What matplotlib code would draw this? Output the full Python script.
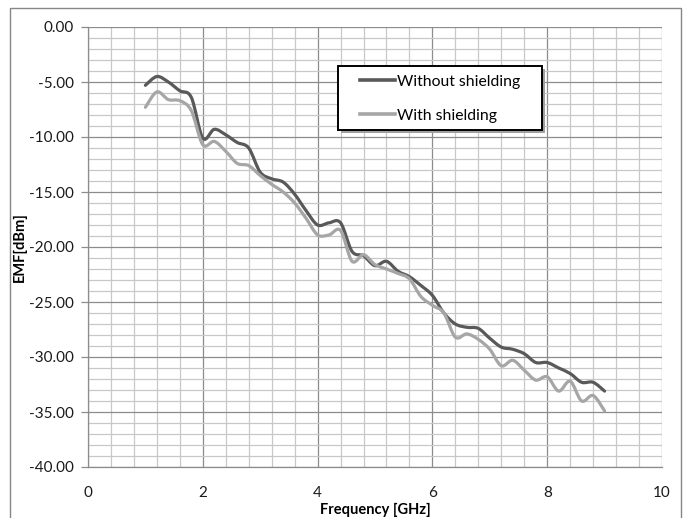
import numpy as np
import matplotlib
matplotlib.use("Agg")
import matplotlib.pyplot as plt
from matplotlib.path import Path
from matplotlib.patches import PathPatch, Rectangle
from matplotlib.lines import Line2D

# =============================
# DATA
# =============================
freq_ghz = [1.0, 1.2, 1.4, 1.6, 1.8, 2.0, 2.2, 2.4, 2.6, 2.8,
            3.0, 3.2, 3.4, 3.6, 3.8, 4.0, 4.2, 4.4, 4.6, 4.8,
            5.0, 5.2, 5.4, 5.6, 5.8, 6.0, 6.2, 6.4, 6.6, 6.8,
            7.0, 7.2, 7.4, 7.6, 7.8, 8.0, 8.2, 8.4, 8.6, 8.8, 9.0]

without_shielding = [-5.3, -4.5, -5.0, -5.8, -6.4, -10.1, -9.3, -9.8, -10.5, -11.0,
                     -13.2, -13.8, -14.1, -15.2, -16.7, -18.0, -17.8, -17.8, -20.4, -20.8,
                     -21.7, -21.3, -22.2, -22.7, -23.5, -24.4, -26.0, -27.0, -27.3, -27.4,
                     -28.3, -29.1, -29.3, -29.7, -30.5, -30.5, -31.0, -31.5, -32.3, -32.3, -33.1]

with_shielding = [-7.3, -5.9, -6.6, -6.7, -7.6, -10.7, -10.4, -11.3, -12.4, -12.6,
                  -13.5, -14.3, -15.0, -16.0, -17.4, -18.9, -18.9, -18.5, -21.3, -20.7,
                  -21.6, -22.0, -22.4, -22.9, -24.5, -25.3, -26.0, -28.2, -27.9, -28.4,
                  -29.3, -30.8, -30.3, -31.2, -32.1, -31.8, -33.1, -32.2, -34.0, -33.5, -34.9]

series_names = ["Without shielding", "With shielding"]
series_colors = ["#595959", "#a6a6a6"]

x_ticks = [0, 2, 4, 6, 8, 10]
y_ticks = [0, -5, -10, -15, -20, -25, -30, -35, -40]

FONT = ["Lato", "DejaVu Sans"]


def smooth_path(xs, ys):
    """Excel-style smoothed line: cubic Bezier through the data points."""
    pts = np.column_stack([xs, ys])
    n = len(pts)
    verts = [pts[0]]
    codes = [Path.MOVETO]
    for i in range(n - 1):
        p0 = pts[i - 1] if i > 0 else pts[i]
        p1 = pts[i]
        p2 = pts[i + 1]
        p3 = pts[i + 2] if i + 2 < n else pts[i + 1]
        c1 = p1 + (p2 - p0) / 6.0
        c2 = p2 - (p3 - p1) / 6.0
        verts += [c1, c2, p2]
        codes += [Path.CURVE4] * 3
    return Path(verts, codes)


fig = plt.figure(figsize=(6.85, 5.18), dpi=100)

# outer chart border
fig.patches.append(Rectangle((10 / 685, -0.02), 671 / 685, 1 - 7.5 / 518 + 0.02,
                             transform=fig.transFigure, fill=False,
                             edgecolor="#868686", linewidth=1.0))

ax = fig.add_axes([88 / 685, (518 - 467) / 518, 574 / 685, 440 / 518])

ax.set_xlim(0, 10)
ax.set_ylim(-40, 0)

# =============================
# GRID
# =============================
ax.set_xticks(x_ticks)
ax.set_xticks(np.arange(0, 10.01, 0.4), minor=True)
ax.set_yticks(y_ticks)
ax.set_yticks(np.arange(-40, 0.01, 1), minor=True)
ax.grid(which="minor", color="#c8c8c8", linewidth=0.9)
ax.grid(which="major", color="#8c8c8c", linewidth=0.9)
ax.set_axisbelow(True)

for side in ["top", "right"]:
    ax.spines[side].set_visible(False)
for side in ["left", "bottom"]:
    ax.spines[side].set_color("#8c8c8c")
    ax.spines[side].set_linewidth(0.9)

ax.tick_params(axis="x", which="both", length=0, pad=14, labelsize=11,
               colors="#1a1a1a")
ax.tick_params(axis="y", which="major", length=5, width=0.9, color="#8c8c8c",
               labelcolor="#1a1a1a", pad=5, labelsize=11)
ax.tick_params(axis="y", which="minor", length=0)

ax.set_xticklabels([str(t) for t in x_ticks], family=FONT)
ax.set_yticklabels([f"{t:.2f}" for t in y_ticks], family=FONT)

# =============================
# LINES
# =============================
for ys, color in zip([without_shielding, with_shielding], series_colors):
    ax.add_patch(PathPatch(smooth_path(freq_ghz, ys), fill=False,
                           edgecolor=color, linewidth=2.3,
                           capstyle="round", joinstyle="round", zorder=3))

ax.set_xlabel("Frequency [GHz]", family=FONT, fontsize=10.5,
              fontweight="bold", labelpad=2)
ax.set_ylabel("EMF[dBm]", family=FONT, fontsize=10.5, fontweight="bold")
ax.yaxis.set_label_coords(-0.106, 0.5)

# =============================
# LEGEND
# =============================
# box with drop shadow, drawn in axes fraction
box_x, box_y, box_w, box_h = 0.4355, 0.766, 0.3554, 0.1455
ax.add_patch(Rectangle((box_x + 0.006, box_y - 0.008), box_w, box_h,
                       transform=ax.transAxes, facecolor="#a0a0a0",
                       edgecolor="none", zorder=4))
ax.add_patch(Rectangle((box_x, box_y), box_w, box_h,
                       transform=ax.transAxes, facecolor="white",
                       edgecolor="#000000", linewidth=1.4, zorder=5))

handles = [Line2D([0], [0], color=c, linewidth=2.6) for c in series_colors]
leg = ax.legend(handles, series_names, loc="upper left",
                bbox_to_anchor=(0.474, 0.891), frameon=False,
                prop={"family": FONT, "size": 11.3}, handlelength=2.2,
                handletextpad=0.15, labelspacing=1.25, borderpad=0,
                borderaxespad=0)
leg.set_zorder(6)

fig.savefig("out.png", dpi=100)
